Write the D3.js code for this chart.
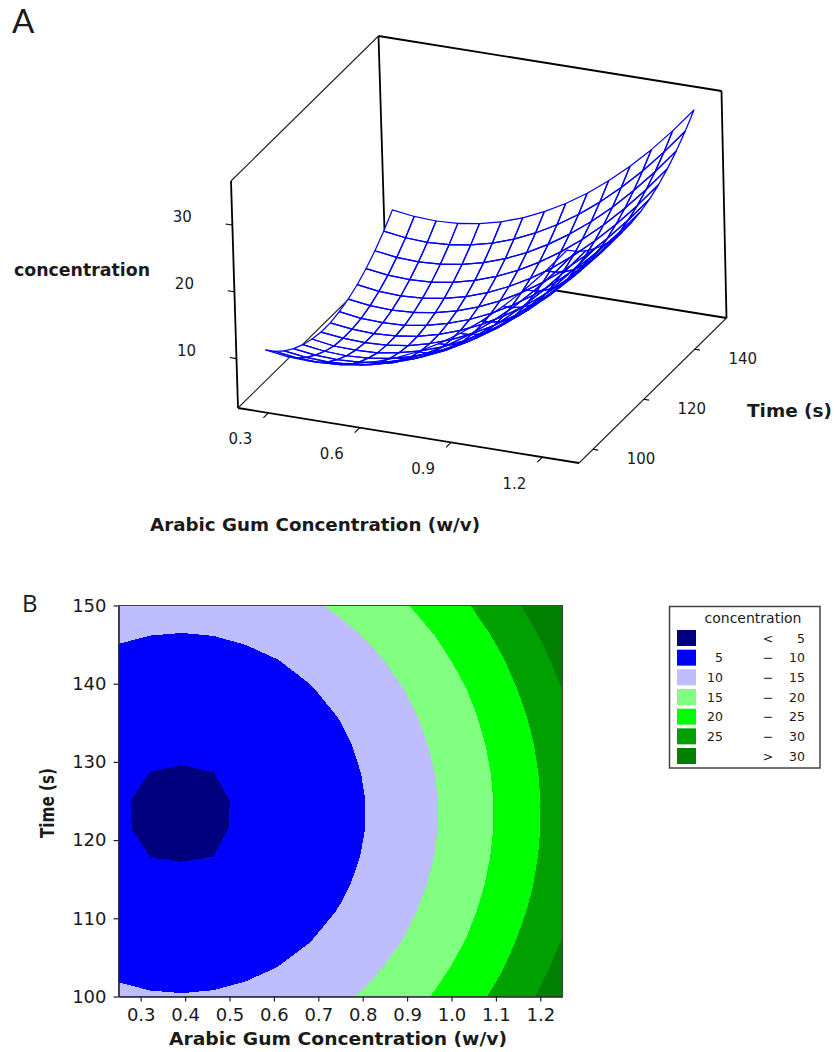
<!DOCTYPE html>
<html>
<head>
<meta charset="utf-8">
<script src="https://cdn.jsdelivr.net/npm/d3@7"></script>
<style>
  body { margin: 0; background: #fff; }
  text { font-family: "DejaVu Sans", sans-serif; fill: #1a1a1a; }
</style>
</head>
<body>
<div id="chartContainer"></div>
<script>
// Values.
const gumValues = [0.25, 0.3214, 0.3929, 0.4643, 0.5357, 0.6071, 0.6786, 0.75, 0.8214, 0.8929, 0.9643, 1.0357, 1.1071, 1.1786, 1.25];
const timeValues = [100, 103.57, 107.14, 110.71, 114.29, 117.86, 121.43, 125, 128.57, 132.14, 135.71, 139.29, 142.86, 146.43, 150];

// One row per time value, one column per gum value.
const concentration = [
  [10.80, 10.34, 10.19, 10.36, 10.85, 11.65, 12.77, 14.21, 15.96, 18.03, 20.41, 23.11, 26.13, 29.47, 33.12],
  [9.22, 8.76, 8.61, 8.78, 9.27, 10.07, 11.19, 12.63, 14.38, 16.45, 18.83, 21.53, 24.55, 27.89, 31.54],
  [7.90, 7.44, 7.29, 7.46, 7.95, 8.75, 9.87, 11.31, 13.06, 15.13, 17.51, 20.21, 23.23, 26.57, 30.22],
  [6.85, 6.39, 6.24, 6.41, 6.90, 7.70, 8.82, 10.26, 12.01, 14.08, 16.46, 19.16, 22.18, 25.52, 29.17],
  [6.05, 5.59, 5.44, 5.61, 6.10, 6.90, 8.02, 9.46, 11.21, 13.28, 15.66, 18.36, 21.38, 24.72, 28.37],
  [5.51, 4.99, 4.90, 5.01, 5.56, 6.36, 7.48, 8.92, 10.67, 12.74, 15.12, 17.82, 20.84, 24.18, 27.83],
  [5.17, 4.77, 4.62, 4.79, 5.24, 6.08, 7.20, 8.64, 10.39, 12.46, 14.84, 17.54, 20.56, 23.90, 27.55],
  [5.15, 4.75, 4.60, 4.77, 5.22, 6.06, 7.18, 8.62, 10.37, 12.44, 14.82, 17.52, 20.54, 23.88, 27.53],
  [5.46, 4.98, 4.85, 4.99, 5.51, 6.31, 7.43, 8.87, 10.62, 12.69, 15.07, 17.77, 20.79, 24.13, 27.78],
  [5.96, 5.50, 5.35, 5.52, 6.01, 6.81, 7.93, 9.37, 11.12, 13.19, 15.57, 18.27, 21.29, 24.63, 28.28],
  [6.72, 6.26, 6.11, 6.28, 6.77, 7.57, 8.69, 10.13, 11.88, 13.95, 16.33, 19.03, 22.05, 25.39, 29.04],
  [7.75, 7.29, 7.14, 7.31, 7.80, 8.60, 9.72, 11.16, 12.91, 14.98, 17.36, 20.06, 23.08, 26.42, 30.07],
  [9.03, 8.57, 8.42, 8.59, 9.08, 9.88, 11.00, 12.44, 14.19, 16.26, 18.64, 21.34, 24.36, 27.70, 31.35],
  [10.58, 10.12, 9.97, 10.14, 10.63, 11.43, 12.55, 13.99, 15.74, 17.81, 20.19, 22.89, 25.91, 29.25, 32.90],
  [12.38, 11.92, 11.77, 11.94, 12.43, 13.23, 14.35, 15.79, 17.54, 19.61, 21.99, 24.69, 27.71, 31.05, 34.70]
];

const surfaceGumTicks = [0.3, 0.6, 0.9, 1.2];
const surfaceTimeTicks = [100, 120, 140];
const surfaceConcTicks = [10, 20, 30];
const contourGumTicks = [0.3, 0.4, 0.5, 0.6, 0.7, 0.8, 0.9, 1.0, 1.1, 1.2];
const contourTimeTicks = [100, 110, 120, 130, 140, 150];

const levels = [5, 10, 15, 20, 25, 30];
const levelColors = ["#000080", "#0000ff", "#bebeff", "#80ff80", "#00ff00", "#00a000", "#008000"];
const legendLow = ["", "5", "10", "15", "20", "25", ""];
const legendSign = ["<", "−", "−", "−", "−", "−", ">"];
const legendHigh = ["5", "10", "15", "20", "25", "30", "30"];

const width = 834;
const height = 1052;
const svg = d3.select("#chartContainer").append("svg")
    .attr("width", width)
    .attr("height", height)
    .style("display", "block");

function createSurface() {
    // Axis extents of the 3D box, as fractions along each box edge.
    const gx = d3.scaleLinear().domain([0.2, 1.32]).range([0, 1]);
    const ty = d3.scaleLinear().domain([94.5, 152.5]).range([0, 1]);
    const cz = d3.scaleLinear().domain([2.6, 36.6]).range([0, 1]);
    // The mesh sits a little lower on screen than the axis ticks say, more so at the front.
    const meshDrop = d3.scaleLinear().domain([100, 150]).range([8, 3.5]);

    const project = (g, t, c) => {
        const u = gx(g), v = ty(t), w = cz(c);
        return [
            238 + 341 * u + 147.5 * v + (-7 + 2 * u) * w,
            408 + 55 * u - 145 * v - 227 * w
        ];
    };
    const projectMesh = (g, t, c) => {
        const p = project(g, t, c);
        return [p[0], p[1] + meshDrop(t)];
    };

    const g0 = gx.domain()[0], g1 = gx.domain()[1];
    const t0 = ty.domain()[0], t1 = ty.domain()[1];
    const c0 = cz.domain()[0], c1 = cz.domain()[1];
    const line = d3.line();

    // Box edges.
    const thick = [
        [[g0, t0, c0], [g0, t0, c1]],
        [[g0, t1, c0], [g0, t1, c1]],
        [[g1, t1, c0], [g1, t1, c1]],
        [[g0, t1, c1], [g1, t1, c1]],
        [[g0, t1, c0], [g1, t1, c0]],
        [[g0, t0, c0], [g1, t0, c0]]
    ];
    const thin = [
        [[g0, t0, c1], [g0, t1, c1]],
        [[g0, t0, c0], [g0, t1, c0]],
        [[g1, t0, c0], [g1, t1, c0]]
    ];
    const box = svg.append("g").attr("fill", "none").attr("stroke", "#000");
    box.selectAll(".thick").data(thick).join("path")
        .attr("class", "thick")
        .attr("stroke-width", 1.8)
        .attr("d", d => line(d.map(p => project(...p))));
    box.selectAll(".thin").data(thin).join("path")
        .attr("class", "thin")
        .attr("stroke", "#222")
        .attr("stroke-width", 1.1)
        .attr("d", d => line(d.map(p => project(...p))));

    // Ticks and their labels.
    const tickGroup = svg.append("g").attr("fill", "none").attr("stroke", "#000").attr("stroke-width", 1.1);
    const labelGroup = svg.append("g").attr("text-anchor", "middle").style("font-size", "15px");

    surfaceGumTicks.forEach(g => {
        const a = project(g, t0, c0), b = project(g, t0 - 2, c0);
        tickGroup.append("path").attr("d", line([a, b]));
        labelGroup.append("text").attr("x", a[0] - 28).attr("y", a[1] + 26).attr("dy", "0.36em").text(d3.format(".1f")(g));
    });
    surfaceTimeTicks.forEach(t => {
        const a = project(g1, t, c0), b = project(g1 + 0.017, t, c0);
        tickGroup.append("path").attr("d", line([a, b]));
        labelGroup.append("text").attr("x", a[0] + 48).attr("y", a[1] + 9).attr("dy", "0.36em").text(t);
    });
    surfaceConcTicks.forEach(c => {
        const a = project(g0, t0, c), b = project(g0 - 0.022, t0, c);
        tickGroup.append("path").attr("d", line([a, b]));
        labelGroup.append("text").attr("x", a[0] - 50).attr("y", a[1] - 8).attr("dy", "0.36em").text(c);
    });

    // White cells hide the box behind the surface, the mesh lines all stay visible on top.
    const cells = [];
    for (let j = timeValues.length - 2; j >= 0; j--) {
        for (let i = 0; i < gumValues.length - 1; i++) {
            cells.push([[i, j], [i + 1, j], [i + 1, j + 1], [i, j + 1]]);
        }
    }
    const cellPath = d => line(d.map(([i, j]) => projectMesh(gumValues[i], timeValues[j], concentration[j][i]))) + "Z";
    const mesh = svg.append("g");
    mesh.append("g")
        .selectAll("path")
        .data(cells)
        .join("path")
        .attr("fill", "#fff")
        .attr("stroke", "#fff")
        .attr("stroke-width", 0.5)
        .attr("d", cellPath);
    mesh.append("g")
        .selectAll("path")
        .data(cells)
        .join("path")
        .attr("fill", "none")
        .attr("stroke", "#0000ff")
        .attr("stroke-width", 1.25)
        .attr("stroke-linejoin", "round")
        .attr("d", cellPath);

    const titles = svg.append("g").style("font-size", "18px").style("font-weight", "bold");
    titles.append("text").attr("x", 14).attr("y", 276)
        .attr("textLength", 136).attr("lengthAdjust", "spacingAndGlyphs").text("concentration");
    titles.append("text").attr("x", 747).attr("y", 417)
        .attr("textLength", 85).attr("lengthAdjust", "spacingAndGlyphs").text("Time (s)");
    titles.append("text").attr("x", 150).attr("y", 531)
        .attr("textLength", 330).attr("lengthAdjust", "spacingAndGlyphs").text("Arabic Gum Concentration (w/v)");

    svg.append("text").attr("x", 12).attr("y", 33)
        .style("font-family", "Lato").style("font-size", "33px").text("A");
}

function createContour() {
    const x = d3.scaleLinear().domain([0.25, 1.25]).range([118.5, 562.5]);
    const y = d3.scaleLinear().domain([100, 150]).range([996.5, 605.5]);

    svg.append("defs").append("clipPath").attr("id", "plotArea")
        .append("rect")
        .attr("x", x.range()[0]).attr("y", y.range()[1])
        .attr("width", x.range()[1] - x.range()[0])
        .attr("height", y.range()[0] - y.range()[1]);

    // Contour cell coordinates back to data values.
    const nx = gumValues.length, ny = timeValues.length;
    const gumAt = d3.scaleLinear().domain([0.5, nx - 0.5]).range([0.25, 1.25]);
    const timeAt = d3.scaleLinear().domain([0.5, ny - 0.5]).range([100, 150]);
    const path = d3.geoPath(d3.geoTransform({
        point(a, b) { this.stream.point(x(gumAt(a)), y(timeAt(b))); }
    }));

    const bands = d3.contours().size([nx, ny]).smooth(true).thresholds(levels)(concentration.flat());

    const plot = svg.append("g").attr("clip-path", "url(#plotArea)").attr("shape-rendering", "crispEdges");
    plot.append("rect")
        .attr("x", x.range()[0]).attr("y", y.range()[1])
        .attr("width", x.range()[1] - x.range()[0])
        .attr("height", y.range()[0] - y.range()[1])
        .attr("fill", levelColors[0]);
    plot.selectAll("path")
        .data(bands)
        .join("path")
        .attr("fill", (d, i) => levelColors[i + 1])
        .attr("d", path);

    const xAxis = svg.append("g")
        .attr("transform", `translate(0,${y.range()[0]})`)
        .call(d3.axisBottom(x).tickValues(contourGumTicks).tickFormat(d3.format(".1f")).tickSize(5).tickSizeOuter(0).tickPadding(7));
    const yAxis = svg.append("g")
        .attr("transform", `translate(${x.range()[0]},0)`)
        .call(d3.axisLeft(y).tickValues(contourTimeTicks).tickSize(5).tickSizeOuter(0).tickPadding(7));
    [xAxis, yAxis].forEach(a => {
        a.attr("font-family", null).attr("font-size", null);
        a.selectAll("text").style("font-size", "18px");
        a.selectAll("line").attr("stroke", "#222").attr("stroke-width", 1.2);
        a.select(".domain").attr("stroke", "#222").attr("stroke-width", 1.6);
    });

    // Top and right of the frame.
    svg.append("path")
        .attr("fill", "none").attr("stroke", "#444").attr("stroke-width", 1.2)
        .attr("d", d3.line()([[x.range()[0], y.range()[1]], [x.range()[1], y.range()[1]], [x.range()[1], y.range()[0]]]));

    const titles = svg.append("g").style("font-size", "18px").style("font-weight", "bold");
    titles.append("text").attr("x", 169).attr("y", 1045)
        .attr("textLength", 338).attr("lengthAdjust", "spacingAndGlyphs").text("Arabic Gum Concentration (w/v)");
    titles.append("text").attr("transform", "translate(54,838) rotate(-90)")
        .style("font-size", "19px")
        .attr("textLength", 70).attr("lengthAdjust", "spacingAndGlyphs").text("Time (s)");

    svg.append("text").attr("x", 22).attr("y", 612)
        .style("font-family", "'Open Sans'").style("font-size", "24px").text("B");
}

function createLegend() {
    const rowY = d3.scalePoint().domain(d3.range(levelColors.length)).range([638, 756]);
    svg.append("rect")
        .attr("x", 669.5).attr("y", 606.5).attr("width", 150.5).attr("height", 161.5)
        .attr("fill", "#fff").attr("stroke", "#444").attr("stroke-width", 1.5);
    svg.append("text").attr("x", 753).attr("y", 623).attr("text-anchor", "middle")
        .style("font-size", "14px").text("concentration");

    const row = svg.append("g").style("font-size", "12.5px")
        .selectAll("g")
        .data(levelColors)
        .join("g")
        .attr("transform", (d, i) => `translate(0,${rowY(i)})`);
    row.append("rect").attr("x", 677).attr("y", -8).attr("width", 19).attr("height", 16).attr("fill", d => d);
    row.append("text").attr("x", 723).attr("dy", "0.36em").attr("text-anchor", "end").text((d, i) => legendLow[i]);
    row.append("text").attr("x", 768).attr("dy", "0.36em").attr("text-anchor", "middle").text((d, i) => legendSign[i]);
    row.append("text").attr("x", 805).attr("dy", "0.36em").attr("text-anchor", "end").text((d, i) => legendHigh[i]);
}

createSurface();
createContour();
createLegend();
</script>
</body>
</html>
